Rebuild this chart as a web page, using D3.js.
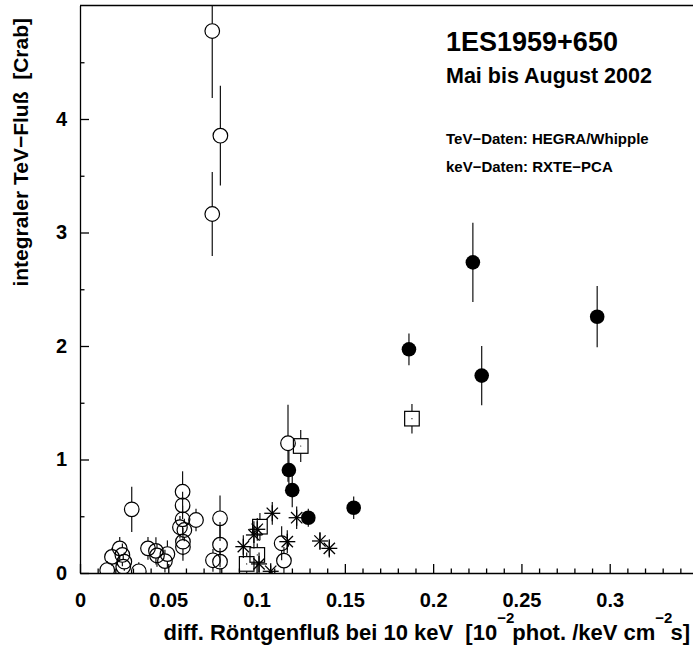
<!DOCTYPE html>
<html>
<head>
<meta charset="utf-8">
<script src="https://cdn.jsdelivr.net/npm/d3@7"></script>
<style>
  body { margin: 0; background: #fff; }
  text { font-family: "Liberation Sans", Arial, Helvetica, sans-serif; font-weight: bold; fill: #000; white-space: pre; }
</style>
</head>
<body>
<svg id="chart" width="693" height="657"></svg>
<script>
// X-ray flux (10^-2 phot./keV cm^2 s) vs integral TeV flux (Crab), with 1-sigma errors

// filled circles
const filledX   = [0.1183, 0.1202, 0.1293, 0.1550, 0.1863, 0.2225, 0.2275, 0.2929];
const filledY   = [0.907,  0.730,  0.487,  0.575,  1.971,  2.737,  1.739,  2.258];
const filledErr = [0.17,   0.15,   0.08,   0.10,   0.14,   0.35,   0.26,   0.27];

// open circles
const openX   = [0.0749, 0.0795, 0.0749, 0.1178, 0.0293,
                 0.0581, 0.0581, 0.0581, 0.0566, 0.0591, 0.0583, 0.0583,
                 0.0657, 0.0793, 0.0793, 0.0753, 0.0793,
                 0.0385, 0.0430, 0.0436, 0.0495, 0.0481,
                 0.0225, 0.0181, 0.0240, 0.0251, 0.0245, 0.0154, 0.0333,
                 0.1142, 0.1155];
const openY   = [4.775, 3.853, 3.163, 1.143, 0.561,
                 0.716, 0.596, 0.473, 0.403, 0.379, 0.276, 0.229,
                 0.467, 0.482, 0.250, 0.112, 0.100,
                 0.217, 0.195, 0.155, 0.167, 0.105,
                 0.217, 0.142, 0.159, 0.100, 0.056, 0.026, 0.015,
                 0.262, 0.109];
const openErr = [0.59, 0.44, 0.37, 0.34, 0.20,
                 0.18, 0.12, 0.12, 0.10, 0.10, 0.12, 0.12,
                 0.10, 0.20, 0.20, 0.10, 0.12,
                 0.10, 0.12, 0.10, 0.12, 0.10,
                 0.10, 0.08, 0.10, 0.08, 0.10, 0.08, 0.08,
                 0.15, 0.12];

// open squares
const squareX   = [0.1880, 0.1250, 0.1019, 0.1004, 0.0944];
const squareY   = [1.360,  1.119,  0.408,  0.159,  0.080];
const squareErr = [0.13,   0.14,   0.12,   0.10,   0.10];

// asterisks
const starX   = [0.0925, 0.0985, 0.1004, 0.1014, 0.1089, 0.1080, 0.1174, 0.1227, 0.1359, 0.1412];
const starY   = [0.232,  0.335,  0.385,  0.080,  0.526,  0.015,  0.276,  0.487,  0.282,  0.217];
const starErr = [0.10,   0.12,   0.10,   0.10,   0.10,   0.05,   0.10,   0.10,   0.08,   0.08];

// axis ticks
const xMajor = [0, 0.05, 0.1, 0.15, 0.2, 0.25, 0.3];
const xLabels = ["0", "0.05", "0.1", "0.15", "0.2", "0.25", "0.3"];
const yMajor = [0, 1, 2, 3, 4];
const yLabels = ["0", "1", "2", "3", "4"];

const svg = d3.select("#chart");
const x = d3.scaleLinear().domain([0, 0.35]).range([80, 698]);
const y = d3.scaleLinear().domain([0, 5]).range([573, 5.5]);

svg.append("clipPath").attr("id", "plotArea")
  .append("rect").attr("x", 80).attr("y", 5.5).attr("width", 618).attr("height", 567.5);

// minor ticks
const xMinor = d3.range(0, 0.351, 0.01).filter(v => Math.abs(v / 0.05 - Math.round(v / 0.05)) > 1e-6);
const yMinor = d3.range(0.5, 5, 1);

const xAxis = svg.append("g").attr("transform", "translate(0,573)")
  .call(d3.axisBottom(x).tickValues(xMajor).tickSize(-9).tickSizeOuter(0)
        .tickPadding(20).tickFormat((d, i) => xLabels[i]));
xAxis.selectAll("text").style("font-size", "20px");
svg.append("g").attr("transform", "translate(0,573)")
  .call(d3.axisBottom(x).tickValues(xMinor).tickSize(-4.5).tickSizeOuter(0).tickFormat(""))
  .select(".domain").remove();

const yAxis = svg.append("g").attr("transform", "translate(80,0)")
  .call(d3.axisLeft(y).tickValues(yMajor).tickSize(-9).tickSizeOuter(0)
        .tickPadding(13).tickFormat((d, i) => yLabels[i]));
yAxis.selectAll("text").style("font-size", "20px");
svg.append("g").attr("transform", "translate(80,0)")
  .call(d3.axisLeft(y).tickValues(yMinor).tickSize(-4.5).tickSizeOuter(0).tickFormat(""))
  .select(".domain").remove();

svg.selectAll(".domain, .tick line").attr("stroke", "#000").attr("stroke-width", 1.3);

// top frame line
svg.append("line").attr("x1", 80).attr("x2", 698).attr("y1", y(5)).attr("y2", y(5))
  .attr("stroke", "#000").attr("stroke-width", 1.3);

const plot = svg.append("g").attr("clip-path", "url(#plotArea)");

// error bars stop at the marker edge
function errorBars(xs, ys, es, gap) {
  const g = plot.append("g").attr("stroke", "#111").attr("stroke-width", 1.2);
  xs.forEach((xv, i) => {
    const cx = x(xv), cy = y(ys[i]);
    const top = y(ys[i] + es[i]), bot = y(ys[i] - es[i]);
    if (cy - gap > top) g.append("line").attr("x1", cx).attr("x2", cx).attr("y1", top).attr("y2", cy - gap);
    if (bot > cy + gap) g.append("line").attr("x1", cx).attr("x2", cx).attr("y1", cy + gap).attr("y2", bot);
  });
}

const R = 7.3;
errorBars(openX, openY, openErr, R);
errorBars(squareX, squareY, squareErr, R);
errorBars(starX, starY, starErr, 0);
errorBars(filledX, filledY, filledErr, 0);

// open circles
plot.append("g").selectAll("circle").data(openX).join("circle")
  .attr("cx", d => x(d)).attr("cy", (d, i) => y(openY[i])).attr("r", R)
  .attr("fill", "none").attr("stroke", "#000").attr("stroke-width", 1.2);

// open squares
const sq = plot.append("g");
sq.selectAll("rect").data(squareX).join("rect")
  .attr("x", d => x(d) - R).attr("y", (d, i) => y(squareY[i]) - R)
  .attr("width", 2 * R).attr("height", 2 * R)
  .attr("fill", "none").attr("stroke", "#000").attr("stroke-width", 1.2);
sq.selectAll("circle").data(squareX).join("circle")
  .attr("cx", d => x(d)).attr("cy", (d, i) => y(squareY[i])).attr("r", 0.6).attr("fill", "#000");

// asterisks
const SR = 8;
const star = plot.append("g").attr("stroke", "#000").attr("stroke-width", 1.3);
starX.forEach((xv, i) => {
  const cx = x(xv), cy = y(starY[i]);
  [0, 45, 90, 135].forEach(a => {
    const dx = SR * Math.cos(a * Math.PI / 180), dy = SR * Math.sin(a * Math.PI / 180);
    star.append("line").attr("x1", cx - dx).attr("y1", cy - dy).attr("x2", cx + dx).attr("y2", cy + dy);
  });
});

// filled circles
plot.append("g").selectAll("circle").data(filledX).join("circle")
  .attr("cx", d => x(d)).attr("cy", (d, i) => y(filledY[i])).attr("r", R)
  .attr("fill", "#000");

// labels inside the frame
svg.append("text").attr("x", 446).attr("y", 51).style("font-size", "27px").text("1ES1959+650");
svg.append("text").attr("x", 446).attr("y", 83).style("font-size", "21.5px").text("Mai bis August 2002");
svg.append("text").attr("x", 446).attr("y", 144).style("font-size", "15px").text("TeV\u2212Daten: HEGRA/Whipple");
svg.append("text").attr("x", 446).attr("y", 172).style("font-size", "15px").text("keV\u2212Daten: RXTE\u2212PCA");

// axis titles
const xt = svg.append("text").attr("x", 690).attr("y", 640).attr("text-anchor", "end").style("font-size", "22px");
xt.append("tspan").text("diff. R\u00f6ntgenflu\u00df bei 10 keV  [10");
xt.append("tspan").attr("dy", -17).style("font-size", "15px").text("\u22122");
xt.append("tspan").attr("dy", 17).attr("dx", -2).text("phot. /keV cm");
xt.append("tspan").attr("dy", -17).style("font-size", "15px").text("\u22122");
xt.append("tspan").attr("dy", 17).attr("dx", -2).text("s]");

svg.append("text").attr("transform", "translate(28,18) rotate(-90)").attr("text-anchor", "end")
  .style("font-size", "21px").text("integraler TeV\u2212Flu\u00df  [Crab]");
</script>
</body>
</html>
